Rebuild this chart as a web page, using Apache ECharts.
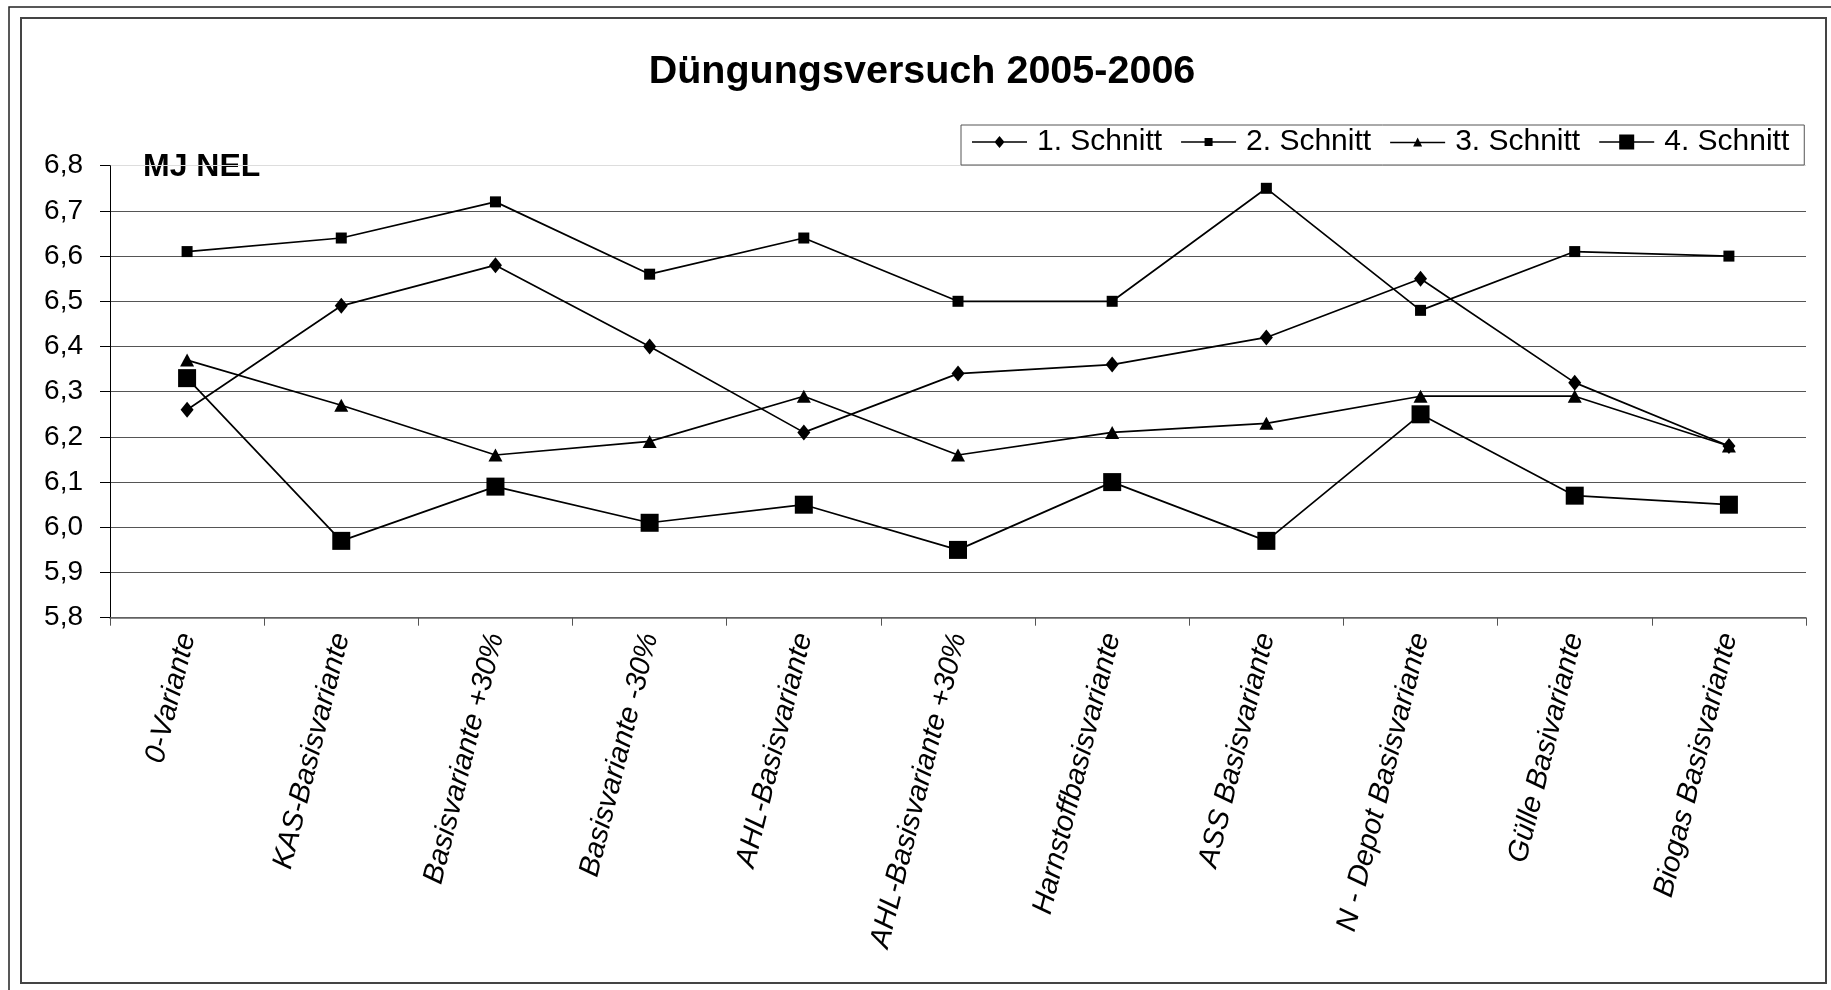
<!DOCTYPE html>
<html>
<head>
<meta charset="utf-8">
<title>Düngungsversuch 2005-2006</title>
<script src="https://cdn.jsdelivr.net/npm/echarts@6/dist/echarts.min.js"></script>
<style>
    html, body { margin: 0; padding: 0; background: #fff; }
    #chart { width: 1831px; height: 990px; }
</style>
</head>
<body>
<div id="chart"></div>
<script>
    // Varianten (x-Achse)
    var categories = ['0-Variante', 'KAS-Basisvariante', 'Basisvariante +30%', 'Basisvariante -30%',
        'AHL-Basisvariante', 'AHL-Basisvariante +30%', 'Harnstoffbasisvariante', 'ASS Basisvariante',
        'N - Depot Basisvariante', 'Gülle Basivariante', 'Biogas Basisvariante'];
    var seriesNames = ['1. Schnitt', '2. Schnitt', '3. Schnitt', '4. Schnitt'];
    // MJ NEL je Schnitt
    var schnitt1 = [6.26, 6.49, 6.58, 6.40, 6.21, 6.34, 6.36, 6.42, 6.55, 6.32, 6.18];
    var schnitt2 = [6.61, 6.64, 6.72, 6.56, 6.64, 6.50, 6.50, 6.75, 6.48, 6.61, 6.60];
    var schnitt3 = [6.37, 6.27, 6.16, 6.19, 6.29, 6.16, 6.21, 6.23, 6.29, 6.29, 6.18];
    var schnitt4 = [6.33, 5.97, 6.09, 6.01, 6.05, 5.95, 6.10, 5.97, 6.25, 6.07, 6.05];
    var yMin = 5.8, yMax = 6.8, yStep = 0.1;

    var font = "'Liberation Sans', Arial, sans-serif";

    // legend icons: line + marker (55 x 20 box)
    var icons = [
        'path://M0 9.25H55V10.75H0Z M27.5 4L32.5 10L27.5 16L22.5 10Z',
        'path://M0 9.25H55V10.75H0Z M23.5 6H31.5V14H23.5Z',
        'path://M0 9.25H55V10.75H0Z M27.5 5L32 14L23 14Z',
        'path://M0 9.25H55V10.75H0Z M20 2.5H35V17.5H20Z'
    ];
    var symbols = ['diamond', 'rect', 'triangle', 'rect'];
    var symbolSizes = [[13, 16], 11, [14, 13], 18];
    var allData = [schnitt1, schnitt2, schnitt3, schnitt4];

    var myChart = echarts.init(document.getElementById('chart'));

    var gridColors = [];
    for (var i = 0; i < 11; i++) {
        gridColors.push(i === 10 ? '#dddddd' : '#555555');
    }

    var series = [];
    for (var s = 0; s < allData.length; s++) {
        series.push({
            name: seriesNames[s],
            type: 'line',
            data: allData[s],
            symbol: symbols[s],
            symbolSize: symbolSizes[s],
            showAllSymbol: true,
            itemStyle: { color: '#000' },
            lineStyle: { color: '#000', width: 1.7 }
        });
    }

    var option = {
        backgroundColor: '#fff',
        animation: false,
        title: {
            text: 'Düngungsversuch 2005-2006',
            left: 922,
            top: 52,
            padding: 0,
            textAlign: 'center',
            textStyle: { fontFamily: font, fontSize: 39.5, fontWeight: 'bold', color: '#000' }
        },
        legend: {
            left: 961,
            top: 125,
            orient: 'horizontal',
            itemWidth: 55,
            itemHeight: 20,
            itemGap: 19,
            padding: [2, 15, 8, 11],
            borderColor: '#555',
            borderWidth: 1,
            backgroundColor: '#fff',
            data: seriesNames.map(function (n, i) {
                return { name: n, icon: icons[i], itemStyle: { color: '#000' } };
            }),
            textStyle: { fontFamily: font, fontSize: 30, color: '#000', padding: [0, 0, 0, 5] }
        },
        grid: {
            left: 110,
            right: 25,
            top: 165.7,
            bottom: 372.3
        },
        xAxis: {
            type: 'category',
            data: categories,
            boundaryGap: true,
            axisLine: { lineStyle: { color: '#666', width: 1.5 } },
            axisTick: { show: true, interval: 0, length: 8, lineStyle: { color: '#555' } },
            axisLabel: {
                interval: 0,
                rotate: 76,
                margin: 16,
                fontFamily: font,
                fontStyle: 'italic',
                fontSize: 29,
                color: '#000'
            },
            splitLine: { show: false }
        },
        yAxis: {
            type: 'value',
            min: yMin,
            max: yMax,
            interval: yStep,
            axisLine: { show: true, lineStyle: { color: '#000', width: 1 } },
            axisTick: { show: true, inside: false, length: 10, lineStyle: { color: '#000' } },
            axisLabel: {
                margin: 27,
                fontFamily: font,
                fontSize: 28,
                color: '#000',
                formatter: function (v) { return v.toFixed(1).replace('.', ','); }
            },
            splitLine: { show: true, lineStyle: { color: gridColors, width: 1 } }
        },
        graphic: [
            {
                type: 'rect',
                silent: true,
                shape: { x: 9, y: 7, width: 1900, height: 1100 },
                style: { fill: 'none', stroke: '#222', lineWidth: 1.5 }
            },
            {
                type: 'rect',
                silent: true,
                shape: { x: 21, y: 18, width: 1805, height: 965 },
                style: { fill: 'none', stroke: '#444', lineWidth: 2 }
            },
            {
                type: 'text',
                left: 143,
                top: 151,
                style: {
                    text: 'MJ NEL',
                    font: 'bold 32px ' + font,
                    fill: '#000'
                }
            }
        ],
        series: series
    };

    myChart.setOption(option);
</script>
</body>
</html>
